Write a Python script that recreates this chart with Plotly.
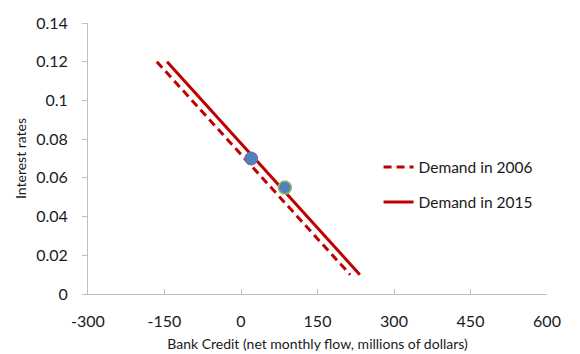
import plotly.graph_objects as go

# Demand curves (Bank credit vs interest rate)
demand_2006_x = [-165, 214]
demand_2006_y = [0.12, 0.01]
demand_2015_x = [-145, 233]
demand_2015_y = [0.12, 0.01]

point_2006_x = [20]
point_2006_y = [0.07]
point_2015_x = [86]
point_2015_y = [0.055]

x_ticks = [-300, -150, 0, 150, 300, 450, 600]
x_tick_labels = ["-300", "-150", "0", "150", "300", "450", "600"]
y_ticks = [0, 0.02, 0.04, 0.06, 0.08, 0.1, 0.12, 0.14]
y_tick_labels = ["0", "0.02", "0.04", "0.06", "0.08", "0.1", "0.12", "0.14"]

RED = "#c00000"
FONT = "Lato"

fig = go.Figure()
fig.add_trace(go.Scatter(x=demand_2006_x, y=demand_2006_y, mode="lines",
                         name="Demand in 2006", legendgroup="a",
                         line=dict(color=RED, width=3, dash="8px,5px")))
fig.add_trace(go.Scatter(x=demand_2015_x, y=demand_2015_y, mode="lines",
                         name="Demand in 2015", legendgroup="b",
                         line=dict(color=RED, width=3)))
fig.add_trace(go.Scatter(x=point_2006_x, y=point_2006_y, mode="markers",
                         showlegend=False,
                         marker=dict(size=13, color="#4f81bd",
                                     line=dict(color="#8064a2", width=1))))
fig.add_trace(go.Scatter(x=point_2015_x, y=point_2015_y, mode="markers",
                         showlegend=False,
                         marker=dict(size=13, color="#4f81bd",
                                     line=dict(color="#9bbb59", width=1.5))))

fig.update_layout(
    width=572, height=346,
    margin=dict(l=80, r=33, t=15, b=60),
    plot_bgcolor="white", paper_bgcolor="white",
    font=dict(family=FONT, size=16, color="#1a1a1a"),
    legend=dict(x=0.633, y=0.53, xanchor="left", yanchor="top",
                traceorder="grouped", tracegroupgap=12,
                font=dict(size=15.5, family=FONT),
                bgcolor="rgba(0,0,0,0)"),
    xaxis=dict(range=[-300, 600], tickvals=x_ticks, ticktext=x_tick_labels,
               showgrid=False, zeroline=False, automargin=False,
               showline=True, linecolor="#bfbfbf", linewidth=1,
               ticks="inside", ticklen=5, tickcolor="#bfbfbf",
               tickfont=dict(size=16), ticklabelstandoff=13,
               title=dict(text="Bank Credit (net monthly flow, millions of dollars)",
                          font=dict(size=14), standoff=9)),
    yaxis=dict(range=[0, 0.14], tickvals=y_ticks, ticktext=y_tick_labels,
               showgrid=False, zeroline=False, automargin=False,
               showline=True, linecolor="#bfbfbf", linewidth=1,
               ticks="outside", ticklen=5, tickcolor="#bfbfbf",
               tickfont=dict(size=16), ticklabelstandoff=11,
               title=dict(text="Interest rates", font=dict(size=14), standoff=6)),
)

fig.write_html("out.html")
